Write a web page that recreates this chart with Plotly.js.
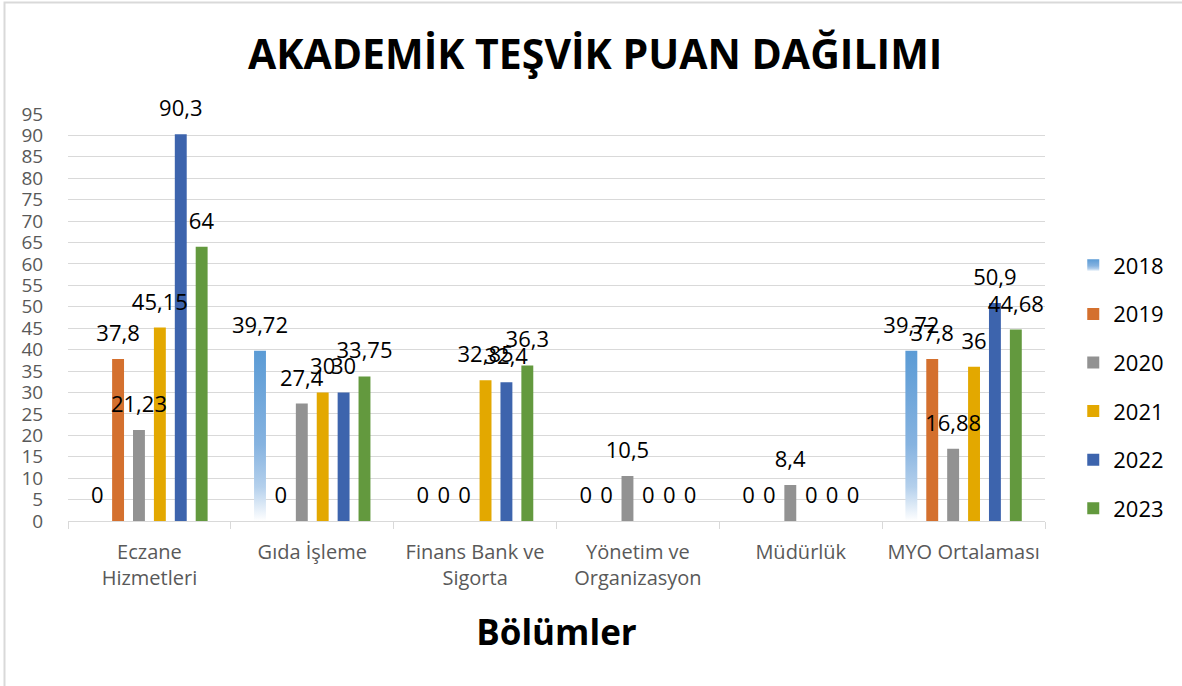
<!DOCTYPE html>
<html>
<head>
<meta charset="utf-8">
<script src="https://cdn.plot.ly/plotly-3.0.1.min.js"></script>
<style>html,body{margin:0;padding:0;background:#fff;}#chart{width:1182px;height:686px;}</style>
</head>
<body>
<div id="chart"></div>
<script>
const categories = ["Eczane<br>Hizmetleri", "Gıda İşleme", "Finans Bank ve<br>Sigorta", "Yönetim ve<br>Organizasyon", "Müdürlük", "MYO Ortalaması"];
const years = ["2018", "2019", "2020", "2021", "2022", "2023"];
const v2018 = [0, 39.72, 0, 0, 0, 39.72];
const v2019 = [37.8, 0, 0, 0, 0, 37.8];
const v2020 = [21.23, 27.4, 0, 10.5, 8.4, 16.88];
const v2021 = [45.15, 30, 32.85, 0, 0, 36];
const v2022 = [90.3, 30, 32.4, 0, 0, 50.9];
const v2023 = [64, 33.75, 36.3, 0, 0, 44.68];
const yTicks = [0,5,10,15,20,25,30,35,40,45,50,55,60,65,70,75,80,85,90,95];
const colors = ["#5B9BD5", "#D4702E", "#929292", "#E3A800", "#3D64AD", "#63993E"];
const series = [v2018, v2019, v2020, v2021, v2022, v2023];

const FONT = "Open Sans, sans-serif";
const traces = series.map((vals, i) => ({
  type: "bar",
  name: years[i],
  x: categories,
  y: vals,
  text: vals.map(v => String(v).replace(".", ",")),
  textposition: "outside",
  textangle: 0,
  constraintext: "none",
  cliponaxis: false,
  textfont: {family: FONT, size: 22, color: "#000"},
  marker: {color: colors[i], line: {width: 0}},
  legendgroup: "g" + i,
  hoverinfo: "x+y+name"
}));

const layout = {
  width: 1182, height: 686,
  paper_bgcolor: "#fff", plot_bgcolor: "#fff",
  margin: {l: 68, r: 137, t: 114, b: 165},
  barmode: "group",
  bargap: 0.23,
  bargroupgap: 0.43,
  font: {family: FONT, color: "#595959"},
  title: {text: "AKADEMİK TEŞVİK PUAN DAĞILIMI", font: {family: FONT, size: 41, color: "#000", weight: "bold"}, x: 0.5035, xref: "container", xanchor: "center", y: 0.92, yref: "container", yanchor: "middle"},
  xaxis: {
    type: "category",
    showline: true, linecolor: "#d9d9d9", linewidth: 1,
    ticks: "outside", tickson: "boundaries", ticklen: 7, tickcolor: "#d9d9d9",
    ticklabelstandoff: 13,
    tickfont: {family: FONT, size: 20, color: "#595959"},
    showgrid: false,
    title: {text: "<b>Bölümler</b>", font: {family: FONT, size: 35, color: "#000"}, standoff: 30}
  },
  yaxis: {
    range: [0, 95],
    tickvals: yTicks,
    ticktext: yTicks.map(String),
    showgrid: true, gridcolor: "#d9d9d9", gridwidth: 1,
    zeroline: false, showline: false,
    ticks: "outside", ticklen: 20, tickcolor: "rgba(0,0,0,0)",
    tickfont: {family: FONT, size: 19, color: "#595959"}
  },
  legend: {
    xref: "container", yref: "container",
    x: 0.908, xanchor: "left", y: (686 - 387) / 686, yanchor: "middle",
    font: {family: FONT, size: 22, color: "#000"},
    tracegroupgap: 17,
    itemwidth: 30
  },
  shapes: [{
    type: "rect", xref: "paper", yref: "paper",
    x0: (4.5 - 68) / 977, x1: (1190 - 68) / 977,
    y0: (521 - 700) / 407, y1: (521 - 2.5) / 407,
    line: {color: "#d9d9d9", width: 2}, fillcolor: "rgba(0,0,0,0)", layer: "below"
  }]
};

Plotly.newPlot("chart", traces, layout, {displayModeBar: false, staticPlot: true}).then(gd => {
  const svg = gd.querySelector("svg.main-svg");
  const ns = "http://www.w3.org/2000/svg";
  let defs = svg.querySelector("defs");
  if (!defs) { defs = document.createElementNS(ns, "defs"); svg.insertBefore(defs, svg.firstChild); }
  const lg = document.createElementNS(ns, "linearGradient");
  lg.setAttribute("id", "grad2018");
  lg.setAttribute("x1", "0"); lg.setAttribute("y1", "0"); lg.setAttribute("x2", "0"); lg.setAttribute("y2", "1");
  [["0", "#5B9BD5"], ["0.55", "#86B3E0"], ["0.8", "#B4D0EC"], ["1", "#FFFFFF"]].forEach(([o, c]) => {
    const s = document.createElementNS(ns, "stop");
    s.setAttribute("offset", o); s.setAttribute("stop-color", c);
    lg.appendChild(s);
  });
  defs.appendChild(lg);
  const barTraces = gd.querySelectorAll(".barlayer .trace.bars");
  if (barTraces.length) {
    barTraces[0].querySelectorAll("path").forEach(p => { p.style.fill = "url(#grad2018)"; });
  }
  // bring all value labels above all bars, lifted a little like the reference
  const barlayer = gd.querySelector(".barlayer");
  if (barlayer) {
    const top = document.createElementNS(ns, "g");
    top.setAttribute("class", "labels-top");
    top.setAttribute("transform", "translate(0,-9)");
    barlayer.appendChild(top);
    barlayer.querySelectorAll("text.bartext").forEach(t => top.appendChild(t));
  }
  const legendItems = gd.querySelectorAll(".legend .traces");
  if (legendItems.length) {
    legendItems[0].querySelectorAll(".legendpoints path").forEach(p => { p.style.fill = "url(#grad2018)"; });
  }
});
</script>
</body>
</html>
